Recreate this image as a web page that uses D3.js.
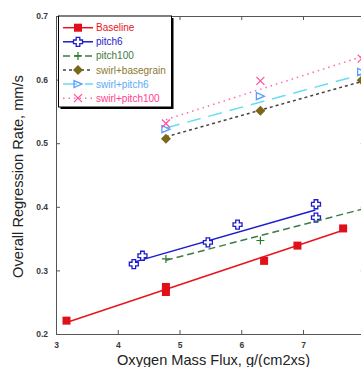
<!DOCTYPE html>
<html>
<head>
<meta charset="utf-8">
<script src="https://cdn.jsdelivr.net/npm/d3@7"></script>
<style>
  html, body { margin: 0; padding: 0; background: #fff; overflow: hidden; }
  svg { display: block; }
</style>
</head>
<body>
<svg id="chart" width="361" height="367"></svg>
<script>
// values
const baselineX = [3.17, 4.78, 4.78, 6.37, 6.91, 7.65];
const baselineY = [0.221, 0.266, 0.274, 0.315, 0.339, 0.366];
const baselineFit = [[3.17, 0.218], [7.65, 0.363]];

const pitch6X = [4.26, 4.40, 5.46, 5.94, 7.21, 7.21];
const pitch6Y = [0.310, 0.323, 0.344, 0.372, 0.404, 0.383];
const pitch6Fit = [[4.26, 0.313], [7.20, 0.395]];

const pitch100X = [4.78, 6.31, 8.5];
const pitch100Y = [0.318, 0.347, 0.41];
const pitch100Fit = [[4.78, 0.316], [8.5, 0.410]];

const basegrainX = [4.78, 6.31, 7.95];
const basegrainY = [0.507, 0.551, 0.599];
const basegrainFit = [[4.78, 0.510], [7.95, 0.597]];

const swirlP6X = [4.78, 6.31, 7.95];
const swirlP6Y = [0.522, 0.574, 0.612];
const swirlP6Fit = [[4.78, 0.524], [7.95, 0.608]];

const swirlP100X = [4.78, 6.31, 7.95];
const swirlP100Y = [0.531, 0.598, 0.633];
const swirlP100Fit = [[4.78, 0.537], [7.95, 0.636]];

const xTicks = [3, 4, 5, 6, 7];
const yTicks = [0.2, 0.3, 0.4, 0.5, 0.6, 0.7];

const series = [
  {name: 'Baseline', xs: baselineX, ys: baselineY, fit: baselineFit, line: '#e8141c', dash: null, mark: 'square', mcol: '#e0101a', tcol: '#e8141c'},
  {name: 'pitch6', xs: pitch6X, ys: pitch6Y, fit: pitch6Fit, line: '#1c1ccc', dash: null, mark: 'plus', mcol: '#1c1ccc', tcol: '#1c1ccc'},
  {name: 'pitch100', xs: pitch100X, ys: pitch100Y, fit: pitch100Fit, line: '#3d7a45', dash: '7,4', mark: 'cross', mcol: '#2a7a2a', tcol: '#3d7a45'},
  {name: 'swirl+basegrain', xs: basegrainX, ys: basegrainY, fit: basegrainFit, line: '#444', dash: '3,3', mark: 'diamond', mcol: '#7a6718', tcol: '#8a7a30'},
  {name: 'swirl+pitch6', xs: swirlP6X, ys: swirlP6Y, fit: swirlP6Fit, line: '#66dcf5', dash: '14,8', mark: 'tri', mcol: '#5a9cff', tcol: '#5aaaf5'},
  {name: 'swirl+pitch100', xs: swirlP100X, ys: swirlP100Y, fit: swirlP100Fit, line: '#ff6aaa', dash: '1.5,4', mark: 'x', mcol: '#ff4f9a', tcol: '#ff3d8c'}
];

const svg = d3.select('#chart');
const plotLeft = 56, plotRight = 364.75, plotTop = 16, plotBottom = 334;

const x = d3.scaleLinear().domain([3, 8]).range([plotLeft, plotRight]);
const y = d3.scaleLinear().domain([0.2, 0.7]).range([plotBottom, plotTop]);

// axes (inward ticks, box on all sides)
function styleAxis(g) {
  g.select('.domain').attr('stroke', '#555');
  g.selectAll('.tick line').attr('stroke', '#555');
  g.selectAll('.tick text').attr('fill', '#3a3a3a')
    .style('font-family', 'Liberation Sans, Arial, sans-serif')
    .style('font-size', '8.5px').style('font-weight', 'bold');
}
svg.append('g').attr('transform', `translate(0,${plotBottom})`)
  .call(d3.axisBottom(x).tickValues(xTicks).tickSizeInner(-4).tickSizeOuter(0).tickPadding(8).tickFormat(d3.format('d')))
  .call(styleAxis);
svg.append('g').attr('transform', `translate(0,${plotTop})`)
  .call(d3.axisTop(x).tickValues(xTicks).tickSizeInner(-4).tickSizeOuter(0).tickFormat(''))
  .call(styleAxis);
svg.append('g').attr('transform', `translate(${plotLeft},0)`)
  .call(d3.axisLeft(y).tickValues(yTicks).tickSizeInner(-4).tickSizeOuter(0).tickPadding(8).tickFormat(d3.format('.1f')))
  .call(styleAxis);
svg.append('g').attr('transform', `translate(${plotRight},0)`)
  .call(d3.axisRight(y).tickValues(yTicks).tickSizeInner(-4).tickSizeOuter(0).tickFormat(''))
  .call(styleAxis);

// marker drawing
function drawMarker(g, type, col, cx, cy) {
  if (type === 'square') {
    g.append('rect').attr('x', cx - 4).attr('y', cy - 4).attr('width', 8).attr('height', 8).attr('fill', col);
  } else if (type === 'plus') {
    const a = 1.8, b = 4.5;
    const pts = [[-a,-b],[a,-b],[a,-a],[b,-a],[b,a],[a,a],[a,b],[-a,b],[-a,a],[-b,a],[-b,-a],[-a,-a]];
    g.append('polygon').attr('points', pts.map(p => [cx + p[0], cy + p[1]].join(',')).join(' '))
      .attr('fill', '#fff').attr('stroke', col).attr('stroke-width', 1.3);
  } else if (type === 'cross') {
    g.append('path').attr('d', `M${cx-4},${cy}H${cx+4}M${cx},${cy-4}V${cy+4}`)
      .attr('stroke', col).attr('stroke-width', 1.2);
  } else if (type === 'diamond') {
    g.append('path').attr('d', `M${cx},${cy-5}L${cx+5},${cy}L${cx},${cy+5}L${cx-5},${cy}Z`).attr('fill', col);
  } else if (type === 'tri') {
    g.append('path').attr('d', `M${cx-4},${cy-3.5}L${cx+4},${cy}L${cx-4},${cy+3.5}Z`)
      .attr('fill', 'none').attr('stroke', col).attr('stroke-width', 1.3);
  } else if (type === 'x') {
    g.append('path').attr('d', `M${cx-4},${cy-4}L${cx+4},${cy+4}M${cx-4},${cy+4}L${cx+4},${cy-4}`)
      .attr('stroke', col).attr('stroke-width', 1.2);
  }
}

const lineMaker = d3.line().x(d => x(d[0])).y(d => y(d[1]));

series.forEach(s => {
  const g = svg.append('g');
  g.append('path').attr('d', lineMaker(s.fit))
    .attr('fill', 'none').attr('stroke', s.line).attr('stroke-width', 1.5)
    .attr('stroke-dasharray', s.dash);
  s.xs.forEach((xv, i) => drawMarker(g, s.mark, s.mcol, x(xv), y(s.ys[i])));
});

// legend
const lg = svg.append('g');
const lx = 58.5, ly = 16, lw = 113, lh = 91;
lg.append('rect').attr('x', lx + 2).attr('y', ly + 2).attr('width', lw).attr('height', lh).attr('fill', '#000');
lg.append('rect').attr('x', lx).attr('y', ly).attr('width', lw).attr('height', lh)
  .attr('fill', '#fff').attr('stroke', '#000').attr('stroke-width', 1);
series.forEach((s, i) => {
  const cy = 27.7 + i * 14.1;
  lg.append('line').attr('x1', 63).attr('x2', 93).attr('y1', cy).attr('y2', cy)
    .attr('stroke', s.line).attr('stroke-width', 1.5).attr('stroke-dasharray', s.dash);
  drawMarker(lg, s.mark, s.mcol, 78, cy);
  lg.append('text').attr('x', 96).attr('y', cy).attr('dy', '0.35em')
    .attr('fill', s.tcol)
    .style('font-family', 'Liberation Sans, Arial, sans-serif').style('font-size', '10px')
    .text(s.name);
});

// axis titles
svg.append('text').attr('x', 213.5).attr('y', 365)
  .attr('text-anchor', 'middle').attr('fill', '#222')
  .style('font-family', 'Liberation Sans, Arial, sans-serif').style('font-size', '14.6px')
  .text('Oxygen Mass Flux, g/(cm2xs)');
svg.append('text').attr('transform', 'translate(22.5,176.5) rotate(-90)')
  .attr('text-anchor', 'middle').attr('fill', '#222')
  .style('font-family', 'Liberation Sans, Arial, sans-serif').style('font-size', '14.6px')
  .text('Overall Regression Rate, mm/s');
</script>
</body>
</html>
